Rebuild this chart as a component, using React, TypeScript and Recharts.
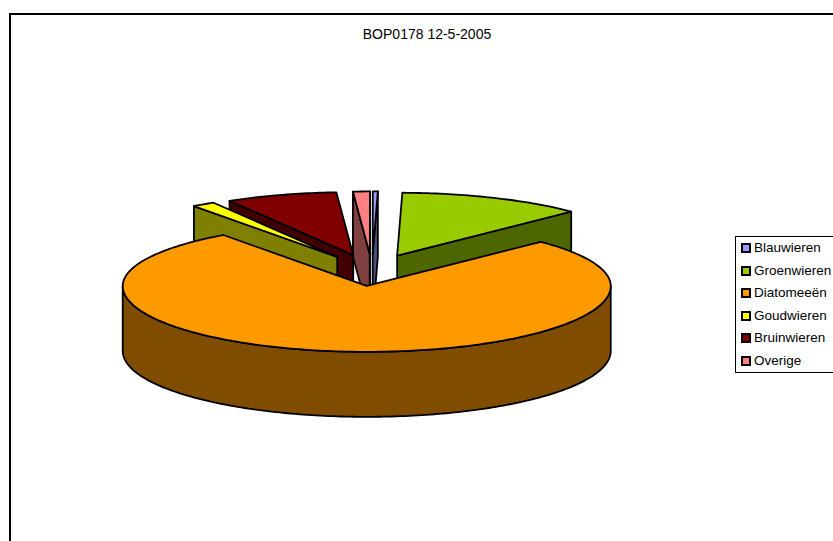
import React from "react";
import { PieChart, Pie, Legend } from "recharts";

// legend order
const categories = ["Blauwieren", "Groenwieren", "Diatomeeën", "Goudwieren", "Bruinwieren", "Overige"];
const shares = [0.33, 12.3, 77.36, 1.53, 7.36, 1.11];
const topColors = ["#9999FF", "#99CC00", "#FF9900", "#FFFF00", "#800000", "#FF8080"];
const sideColors = ["#4D4D80", "#4D6600", "#804D00", "#808000", "#400000", "#804040"];
// order around the pie, counter-clockwise, so that the front slice paints last
const paintOrder = [1, 0, 5, 4, 3, 2];

const data = paintOrder.map((i) => ({
  name: categories[i],
  value: shares[i],
  fill: topColors[i],
  side: sideColors[i],
}));

const TILT_BACK = 0.258;
const TILT_FRONT = 0.27;
const DEPTH = 65;
const EXPLODE_X = 0.26;
const EXPLODE_Y = 0.24;
const rad = Math.PI / 180;

// one slice of the tilted pie, walls first and then the top
function Slice3D(props: any) {
  const { cx, cy, outerRadius, startAngle, endAngle, fill } = props;
  const side = props.side ?? props.payload?.side;
  const lo = Math.min(startAngle, endAngle);
  const hi = Math.max(startAngle, endAngle);
  const mid = (lo + hi) / 2;
  const ox = cx + outerRadius * EXPLODE_X * Math.cos(mid * rad);
  const oy = cy - outerRadius * TILT_FRONT * EXPLODE_Y * Math.sin(mid * rad);

  const rim = (a: number, drop = 0): [number, number] => {
    const s = Math.sin(a * rad);
    const tilt = s > 0 ? TILT_BACK : TILT_FRONT;
    return [ox + outerRadius * Math.cos(a * rad), oy - outerRadius * tilt * s + drop];
  };
  const toPath = (pts: [number, number][]) =>
    "M" + pts.map((p) => p[0].toFixed(2) + "," + p[1].toFixed(2)).join("L") + "Z";
  const arc = (from: number, to: number, drop = 0) => {
    const pts: [number, number][] = [];
    const n = Math.max(1, Math.ceil(Math.abs(to - from)));
    for (let i = 0; i <= n; i++) pts.push(rim(from + ((to - from) * i) / n, drop));
    return pts;
  };
  const face = (a: number) =>
    toPath([rim(a), [ox, oy], [ox, oy + DEPTH], rim(a, DEPTH)]);

  const wallFrom = Math.max(lo, 180);
  const wallTo = Math.min(hi, 360);

  return (
    <g stroke="#000" strokeWidth={1.8} strokeLinejoin="round">
      {Math.cos(hi * rad) < 0 && <path d={face(hi)} fill={side} />}
      {Math.cos(lo * rad) > 0 && <path d={face(lo)} fill={side} />}
      {wallTo > wallFrom && (
        <path d={toPath([...arc(wallFrom, wallTo), ...arc(wallTo, wallFrom, DEPTH)])} fill={side} />
      )}
      <path d={toPath([[ox, oy], ...arc(lo, hi)])} fill={fill} />
    </g>
  );
}

function LegendBox() {
  return (
    <div
      style={{
        position: "absolute",
        left: 735,
        top: 236,
        width: 120,
        height: 137,
        boxSizing: "border-box",
        border: "1px solid #000",
        background: "#fff",
        fontFamily: "Liberation Sans",
        fontSize: 13.5,
        color: "#000",
      }}
    >
      {categories.map((c, i) => (
        <div key={c} style={{ position: "absolute", left: 5, top: 2 + i * 22.6, height: 18, lineHeight: "18px", whiteSpace: "nowrap" }}>
          <span
            style={{
              position: "absolute",
              left: 0,
              top: 4,
              width: 10,
              height: 10,
              boxSizing: "border-box",
              border: "2px solid #000",
              background: topColors[i],
            }}
          />
          <span style={{ marginLeft: 13 }}>{c}</span>
        </div>
      ))}
    </div>
  );
}

export default function App() {
  return (
    <div style={{ position: "fixed", left: 0, top: 0, width: 833, height: 541, overflow: "hidden", background: "#fff" }}>
      <div style={{ position: "absolute", left: 9, top: 13, width: 900, height: 700, border: "2px solid #000" }} />
      <PieChart width={833} height={541} margin={{ top: 0, right: 0, bottom: 0, left: 0 }} style={{ position: "absolute", left: 0, top: 0 }}>
        <text x={427} y={39} textAnchor="middle" fontFamily="Liberation Sans" fontSize={14} fill="#000">
          BOP0178 12-5-2005
        </text>
        <Pie
          data={data}
          dataKey="value"
          nameKey="name"
          cx={372}
          cy={270.2}
          innerRadius={0}
          outerRadius={244}
          startAngle={44.5}
          endAngle={404.5}
          stroke="none"
          shape={Slice3D}
          isAnimationActive={false}
        />
        <Legend content={LegendBox} wrapperStyle={{ position: "absolute", left: 0, top: 0, width: 0, height: 0 }} />
      </PieChart>
    </div>
  );
}
